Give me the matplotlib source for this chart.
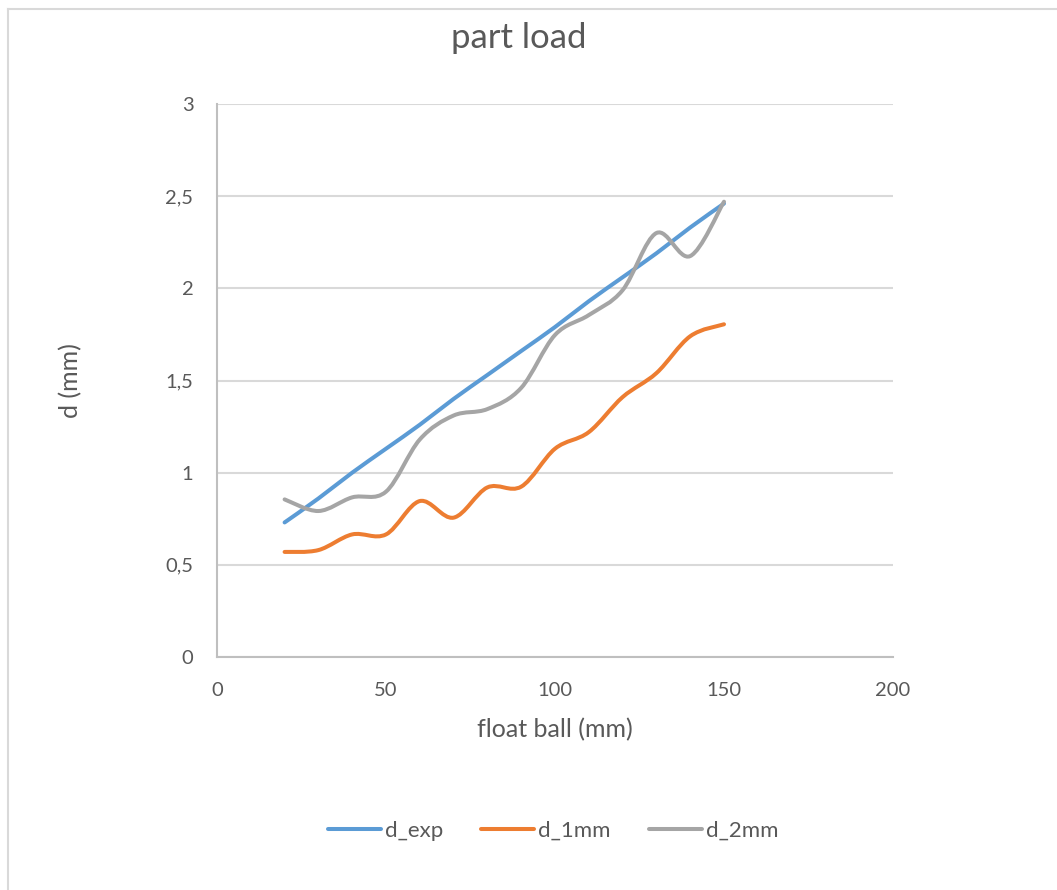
import numpy as np
import matplotlib.pyplot as plt
from matplotlib.path import Path
from matplotlib.patches import PathPatch
from matplotlib.lines import Line2D

plt.rcParams['font.family'] = ['Lato', 'DejaVu Sans']

float_ball = [20, 30, 40, 50, 60, 70, 80, 90, 100, 110, 120, 130, 140, 150]
d_exp = [0.73, 0.86, 1.00, 1.13, 1.26, 1.40, 1.53, 1.66, 1.79, 1.93, 2.06, 2.19, 2.33, 2.46]
d_1mm = [0.57, 0.58, 0.665, 0.665, 0.846, 0.756, 0.92, 0.924, 1.13, 1.22, 1.41, 1.54, 1.74, 1.805]
d_2mm = [0.855, 0.792, 0.866, 0.897, 1.18, 1.31, 1.345, 1.46, 1.747, 1.855, 1.99, 2.30, 2.175, 2.47]

series = [('d_exp', d_exp, '#5B9BD5'), ('d_1mm', d_1mm, '#ED7D31'), ('d_2mm', d_2mm, '#A5A5A5')]
text_color = '#595959'


def smooth_path(x, y):
    # excel-like smoothed line: bezier segments through every point
    p = np.column_stack([x, y]).astype(float)
    ext = np.vstack([p[0], p, p[-1]])
    verts = [p[0]]
    codes = [Path.MOVETO]
    for i in range(len(p) - 1):
        c1 = ext[i + 1] + (ext[i + 2] - ext[i]) / 6
        c2 = ext[i + 2] - (ext[i + 3] - ext[i + 1]) / 6
        verts += [c1, c2, ext[i + 2]]
        codes += [Path.CURVE4] * 3
    return Path(verts, codes)


fig = plt.figure(figsize=(10.57, 8.9), dpi=100)
ax = fig.add_axes([217 / 1057, 1 - 657 / 890, (893 - 217) / 1057, (657 - 104) / 890])

handles = []
for name, vals, color in series:
    patch = PathPatch(smooth_path(float_ball, vals), facecolor='none', edgecolor=color,
                      lw=2.9, capstyle='round', joinstyle='round', zorder=3)
    ax.add_patch(patch)
    handles.append(Line2D([], [], color=color, lw=2.9, solid_capstyle='round', label=name))

ax.set_xlim(0, 200)
ax.set_ylim(0, 3)
ax.set_xticks([0, 50, 100, 150, 200])
ax.set_yticks([0, 0.5, 1, 1.5, 2, 2.5, 3])
ax.set_yticklabels(['0', '0,5', '1', '1,5', '2', '2,5', '3'])
ax.tick_params(length=0, labelsize=14.5, labelcolor=text_color)
ax.tick_params(axis='x', pad=18)
ax.tick_params(axis='y', pad=17)
ax.grid(axis='y', color='#d9d9d9', lw=1.5)
ax.set_axisbelow(True)
for s in ['top', 'right']:
    ax.spines[s].set_visible(False)
for s in ['left', 'bottom']:
    ax.spines[s].set_color('#bfbfbf')
    ax.spines[s].set_linewidth(1.5)

ax.set_xlabel('float ball (mm)', fontsize=18, color=text_color, labelpad=14)
ax.set_ylabel('d (mm)', fontsize=18, color=text_color, labelpad=60)
fig.text(519 / 1057, 1 - 38 / 890, 'part load', fontsize=25, color=text_color,
         ha='center', va='center')

fig.legend(handles=handles, loc='center', bbox_to_anchor=(553 / 1057, 1 - 831 / 890),
           ncol=3, frameon=False, fontsize=16, labelcolor=text_color,
           handlelength=2.4, handletextpad=0.18, columnspacing=1.7)

# chart area border (only left and top visible in the crop)
fig.add_artist(Line2D([7.5 / 1057, 7.5 / 1057], [0, 1 - 9 / 890], color='#d9d9d9', lw=1.5))
fig.add_artist(Line2D([7.5 / 1057, 1], [1 - 9 / 890, 1 - 9 / 890], color='#d9d9d9', lw=1.5))

fig.savefig('out.png', dpi=100)
